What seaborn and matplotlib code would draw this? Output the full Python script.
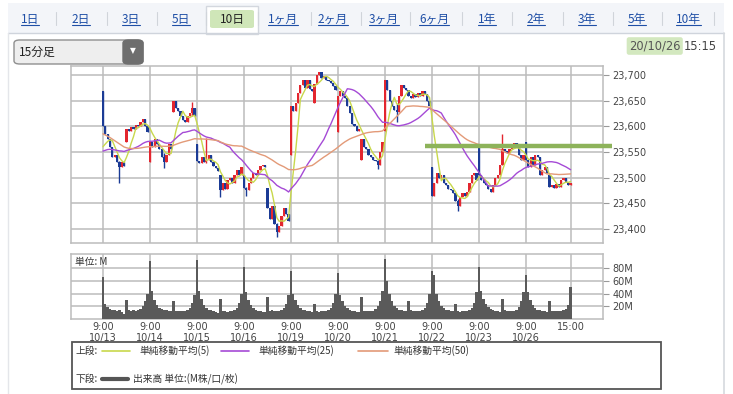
import numpy as np
import pandas as pd
import matplotlib
matplotlib.use("Agg")
import matplotlib.pyplot as plt
import seaborn as sns
from matplotlib.patches import Rectangle, FancyBboxPatch
from matplotlib.lines import Line2D

# ---------------- data ----------------
days = ["10/13", "10/14", "10/15", "10/16", "10/19", "10/20", "10/21", "10/22", "10/23", "10/26"]
bars_per_day = 20
tabs = ["1日", "2日", "3日", "5日", "10日", "1ヶ月", "2ヶ月", "3ヶ月", "6ヶ月", "1年", "2年", "3年", "5年", "10年"]
selected_tab = "10日"
interval_label = "15分足"
stamp_date = "20/10/26"
stamp_time = "15:15"

# closes of the sessions before 10/13 (only feed the moving averages)
prior_closes = [23700, 23695, 23688, 23692, 23685, 23690, 23680, 23684, 23676, 23670,
                23640, 23620, 23600, 23590, 23585, 23575, 23570, 23565, 23560, 23555,
                23560, 23550, 23545, 23552, 23548,
                23545, 23540, 23548, 23555, 23560, 23552, 23545, 23538, 23542, 23550,
                23558, 23565, 23560, 23555, 23548, 23540, 23535, 23545, 23552, 23560,
                23558, 23550, 23545, 23548]

closes = [
    # 10/13
    23600, 23585, 23575, 23560, 23540, 23545, 23530, 23520, 23530, 23522,
    23595, 23590, 23598, 23595, 23603, 23600, 23608, 23615, 23600, 23588,
    # 10/14
    23570, 23560, 23575, 23565, 23555, 23540, 23530, 23545, 23565, 23555,
    23650, 23635, 23630, 23620, 23612, 23608, 23620, 23625, 23635, 23620,
    # 10/15
    23532, 23528, 23540, 23530, 23535, 23545, 23530, 23522, 23518, 23512,
    23475, 23490, 23478, 23495, 23500, 23490, 23505, 23515, 23505, 23520,
    # 10/16
    23480, 23475, 23490, 23500, 23510, 23505, 23515, 23522, 23525, 23520,
    23440, 23420, 23445, 23410, 23395, 23405, 23425, 23440, 23430, 23415,
    # 10/19
    23640, 23630, 23645, 23665, 23680, 23690, 23675, 23690, 23672, 23668,
    23682, 23700, 23705, 23695, 23698, 23690, 23688, 23685, 23678, 23670,
    # 10/20
    23660, 23668, 23660, 23655, 23640, 23625, 23605, 23600, 23590, 23595,
    23575, 23560, 23555, 23545, 23540, 23535, 23532, 23525, 23550, 23570,
    # 10/21
    23690, 23670, 23650, 23640, 23632, 23628, 23660, 23680, 23675, 23670,
    23660, 23655, 23662, 23658, 23665, 23660, 23668, 23662, 23650, 23640,
    # 10/22
    23465, 23490, 23510, 23500, 23505, 23490, 23485, 23478, 23475, 23470,
    23455, 23445, 23462, 23470, 23465, 23472, 23490, 23505, 23510, 23495,
    # 10/23
    23505, 23495, 23490, 23485, 23478, 23472, 23485, 23500, 23505, 23525,
    23555, 23552, 23548, 23555, 23560, 23568, 23560, 23545, 23535, 23545,
    # 10/26
    23535, 23520, 23540, 23525, 23545, 23540, 23505, 23515, 23520, 23510,
    23482, 23485, 23480, 23488, 23482, 23495, 23500, 23492, 23485, 23490,
]

# opening prints that gap away from the previous close
gap_opens = {0: 23668, 10: 23569, 20: 23530, 30: 23627, 40: 23565, 50: 23505,
             60: 23505, 70: 23480, 80: 23545, 90: 23645, 100: 23588, 110: 23535,
             120: 23590, 140: 23520, 160: 23560, 180: 23570, 190: 23505}
# notable wicks (low, high)
wicks = {7: (23490, 23532), 26: (23518, 23548), 38: (23620, 23648), 44: (23528, 23578),
         50: (23462, 23505), 61: (23465, 23482), 74: (23385, 23412), 117: (23517, 23534),
         125: (23608, 23644), 151: (23435, 23458), 170: (23525, 23585)}

volume_m = [
    66, 24, 19, 16, 15, 14, 12, 14, 11, 8, 30, 14, 13, 14, 13, 14, 16, 20, 28, 40,
    92, 45, 30, 22, 18, 16, 15, 14, 13, 12, 29, 13, 12, 13, 12, 13, 15, 18, 25, 38,
    94, 45, 32, 22, 18, 15, 14, 12, 11, 10, 32, 13, 12, 11, 12, 12, 14, 18, 25, 40,
    83, 42, 30, 22, 18, 15, 13, 12, 11, 11, 35, 13, 14, 12, 13, 13, 15, 18, 24, 38,
    76, 40, 30, 22, 18, 15, 14, 13, 12, 11, 24, 13, 11, 12, 12, 13, 14, 18, 25, 40,
    73, 38, 28, 20, 17, 14, 13, 12, 11, 11, 35, 13, 12, 12, 13, 13, 16, 20, 28, 45,
    95, 60, 40, 28, 20, 17, 15, 14, 13, 12, 29, 14, 13, 12, 13, 13, 15, 18, 25, 40,
    76, 70, 40, 28, 20, 17, 15, 14, 13, 12, 24, 12, 11, 12, 12, 13, 15, 18, 26, 42,
    82, 45, 32, 24, 19, 16, 14, 13, 12, 11, 32, 14, 13, 12, 13, 13, 15, 19, 28, 42,
    70, 42, 30, 22, 18, 15, 14, 13, 12, 11, 29, 13, 12, 12, 12, 13, 14, 16, 22, 50,
]

price_ticks = [23400, 23450, 23500, 23550, 23600, 23650, 23700]
vol_ticks = [20, 40, 60, 80]
ma_periods = [5, 25, 50]
ma_labels = ["単純移動平均(5)", "単純移動平均(25)", "単純移動平均(50)"]
alert_price = 23562
alert_start_bar = 137

# ---------------- derived ----------------
n = len(closes)
idx = np.arange(n)
c = np.array(closes, float)
o = np.array([gap_opens.get(i, closes[i - 1] if i > 0 else closes[0]) for i in range(n)], float)
hi = np.maximum(o, c)
lo = np.minimum(o, c)
for k, (l, h) in wicks.items():
    lo[k] = min(lo[k], l)
    hi[k] = max(hi[k], h)

all_c = pd.Series(prior_closes + closes, dtype=float)
mas = {p: all_c.rolling(p, min_periods=1).mean().to_numpy()[-n:] for p in ma_periods}
df = pd.DataFrame({"i": idx, "ma5": mas[5], "ma25": mas[25], "ma50": mas[50], "vol": volume_m})

# ---------------- style ----------------
sns.set_theme(style="white")
plt.rcParams["font.family"] = ["Noto Sans CJK JP", "DejaVu Sans"]

RED = "#e3262f"
BLUE = "#1b3b95"
C_MA = ["#c8d84c", "#a54ad6", "#e39a78"]
VOLC = "#5a5a5a"
GRID = "#bcbcbc"
LINK = "#1f4fa6"

W, H = 733, 394
fig = plt.figure(figsize=(W / 100, H / 100), dpi=100)
fig.patch.set_facecolor("white")


def fx(x):
    return x / W


def fy(y):
    return 1 - y / H


# ---------------- header (tabs) ----------------
fig.patches.append(Rectangle((fx(8), fy(33)), fx(724) - fx(8), fy(3) - fy(33),
                             transform=fig.transFigure, facecolor="#f3f5f9", edgecolor="none", zorder=0))
fig.lines.append(Line2D([fx(8), fx(724)], [fy(33), fy(33)], transform=fig.transFigure, color="#cfd4dc", lw=1))
fig.lines.append(Line2D([fx(724), fx(724)], [fy(33), fy(394)], transform=fig.transFigure, color="#d6d9de", lw=1.2))
fig.lines.append(Line2D([fx(8), fx(8)], [fy(33), fy(394)], transform=fig.transFigure, color="#e4e6ea", lw=1))

tab_centers = [30, 81, 131, 181, 232, 283, 333, 384, 434, 487, 536, 587, 637, 688]
seps = [56, 107, 157, 206, 258, 311, 361, 410, 462, 512, 563, 613, 662, 714]
for s in seps:
    fig.lines.append(Line2D([fx(s), fx(s)], [fy(12), fy(25)], transform=fig.transFigure, color="#d0d4da", lw=0.8))
# selected tab box
fig.patches.append(Rectangle((fx(206), fy(34)), fx(258) - fx(206), fy(6) - fy(34), transform=fig.transFigure,
                             facecolor="white", edgecolor="#d3d7de", lw=1, zorder=1))
fig.patches.append(FancyBboxPatch((fx(210), fy(28)), fx(254) - fx(210), fy(10) - fy(28),
                                  boxstyle="round,pad=0,rounding_size=0.004", transform=fig.transFigure,
                                  facecolor="#cfe6b8", edgecolor="none", zorder=2))
tab_texts = []
for lab, cx in zip(tabs, tab_centers):
    sel = lab == selected_tab
    t = fig.text(fx(cx), fy(19), lab, ha="center", va="center", fontsize=8.5,
                 color="#222222" if sel else LINK, zorder=3)
    if not sel:
        tab_texts.append(t)

# dropdown
fig.patches.append(FancyBboxPatch((fx(14), fy(64)), fx(143) - fx(14), fy(40) - fy(64),
                                  boxstyle="round,pad=0,rounding_size=0.008", transform=fig.transFigure,
                                  facecolor="#eeeeee", edgecolor="#8f8f8f", lw=1))
fig.patches.append(FancyBboxPatch((fx(123), fy(64)), fx(143) - fx(123), fy(40) - fy(64),
                                  boxstyle="round,pad=0,rounding_size=0.008", transform=fig.transFigure,
                                  facecolor="#6e6e6e", edgecolor="#6e6e6e", lw=1))
fig.text(fx(19), fy(52), interval_label, ha="left", va="center", fontsize=8.5, color="#222222")
fig.text(fx(133), fy(51), "▼", ha="center", va="center", fontsize=5.5, color="white", family="DejaVu Sans")

# timestamp
fig.text(fx(629), fy(46), stamp_date, ha="left", va="center", fontsize=8.3, color="#555555",
         family="DejaVu Sans", bbox=dict(boxstyle="round,pad=0.2", facecolor="#d3e8bf", edgecolor="none"))
fig.text(fx(684), fy(46), stamp_time, ha="left", va="center", fontsize=8.3, color="#444444", family="DejaVu Sans")

# ---------------- price panel ----------------
axp = fig.add_axes([fx(71), fy(243), fx(603) - fx(71), fy(66) - fy(243)])
axv = fig.add_axes([fx(71), fy(319), fx(603) - fx(71), fy(254) - fy(319)])

day_pos = [d * bars_per_day for d in range(len(days))] + [n - 1]
xlim = (-13.6, 212.8)

for ax in (axp, axv):
    ax.set_facecolor("white")
    ax.set_xlim(*xlim)
    ax.set_xticks(day_pos)
    ax.grid(True, color=GRID, lw=1.1)
    ax.set_axisbelow(True)
    for sp in ax.spines.values():
        sp.set_color(GRID)
        sp.set_linewidth(1.1)
    ax.yaxis.tick_right()
    ax.tick_params(axis="y", length=4, width=0.8, color="#999999", pad=3, labelsize=7, labelcolor="#444444",
                   right=True, left=False)
    ax.tick_params(axis="x", length=0)

cols = np.where(c >= o, RED, BLUE)
axp.vlines(idx, lo, hi, colors=cols, lw=1.0, zorder=3)
axp.bar(idx, np.maximum(np.abs(c - o), 1.5), bottom=np.minimum(o, c),
        width=0.95, color=cols, linewidth=0, zorder=3)
for key, col in zip(["ma5", "ma25", "ma50"], C_MA):
    sns.lineplot(data=df, x="i", y=key, ax=axp, color=col, linewidth=1.0, zorder=4)
axp.plot([alert_start_bar, xlim[1]], [alert_price, alert_price], color="#8db35a", lw=3.2,
         solid_capstyle="butt", zorder=5)
axp.plot([1.0, 1.016], [alert_price, alert_price], color="#8db35a", lw=3.2, solid_capstyle="butt",
         transform=axp.get_yaxis_transform(), clip_on=False, zorder=5)

axp.set_ylim(23372.7, 23717.5)
axp.set_yticks(price_ticks)
axp.set_yticklabels([f"{v:,}" for v in price_ticks], family="DejaVu Sans")
axp.set_xticklabels([])
axp.set_xlabel("")
axp.set_ylabel("")

# ---------------- volume panel ----------------
axv.bar(df["i"], df["vol"], width=1.0, color=VOLC, linewidth=0, zorder=3)
axv.set_ylim(0, 102.8)
axv.set_yticks(vol_ticks)
axv.set_yticklabels([f"{v}M" for v in vol_ticks], family="DejaVu Sans")
axv.set_xticklabels([f"9:00\n{d}" for d in days] + ["15:00"], fontsize=7, color="#444444",
                    family="DejaVu Sans", linespacing=1.15, va="top")
axv.tick_params(axis="x", pad=2)
axv.text(fx(75), fy(262), "単位: M", transform=fig.transFigure, fontsize=7, color="#333333",
         ha="left", va="center", zorder=6)

# ---------------- legend box ----------------
fig.patches.append(Rectangle((fx(72), fy(389)), fx(661) - fx(72), fy(342) - fy(389), transform=fig.transFigure,
                             facecolor="white", edgecolor="#555555", lw=1.3))
ly1, ly2 = 351, 379
fig.text(fx(76), fy(ly1), "上段:", fontsize=7, color="#333333", ha="left", va="center")
fig.text(fx(76), fy(ly2), "下段:", fontsize=7, color="#333333", ha="left", va="center")
leg_lines = [(102, 130), (221, 249), (358, 388)]
leg_text_x = [139, 258, 393]
for (x0, x1), tx, col, lab in zip(leg_lines, leg_text_x, C_MA, ma_labels):
    fig.lines.append(Line2D([fx(x0), fx(x1)], [fy(ly1), fy(ly1)], transform=fig.transFigure, color=col, lw=1.2))
    fig.text(fx(tx), fy(ly1), lab, fontsize=7, color="#333333", ha="left", va="center")
fig.lines.append(Line2D([fx(102), fx(128)], [fy(ly2), fy(ly2)], transform=fig.transFigure, color="#555555", lw=3))
fig.text(fx(133), fy(ly2), "出来高 単位:(M株/口/枚)", fontsize=7, color="#333333", ha="left", va="center")

# underline link tabs
fig.canvas.draw()
r = fig.canvas.get_renderer()
inv = fig.transFigure.inverted()
for t in tab_texts:
    bb = t.get_window_extent(r)
    (x0, y0), (x1, y1) = inv.transform([(bb.x0, bb.y0), (bb.x1, bb.y1)])
    fig.lines.append(Line2D([x0, x1], [y0 + 0.002, y0 + 0.002], transform=fig.transFigure, color=LINK, lw=0.8))

fig.savefig("out.png", dpi=100)
